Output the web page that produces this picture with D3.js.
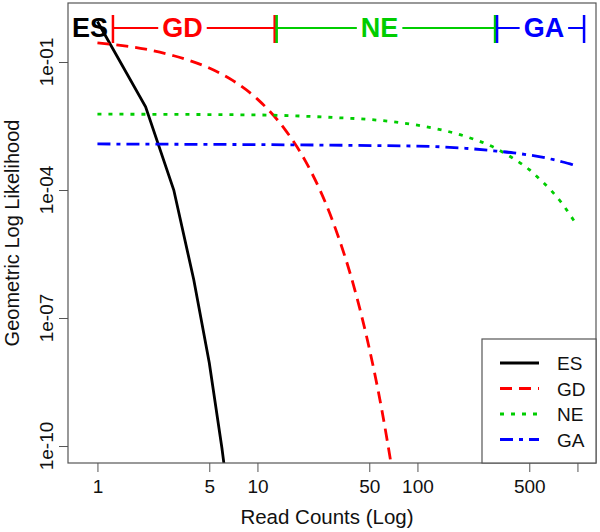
<!doctype html>
<html>
<head>
<script src="https://cdnjs.cloudflare.com/ajax/libs/d3/7.8.5/d3.min.js"></script>
<style>
  body { margin: 0; background: #fff; }
  svg { font-family: "Liberation Sans", Arial, sans-serif; }
</style>
</head>
<body>
<svg id="chart" width="600" height="532"></svg>
<script>
// read counts and likelihoods
var esX  = [1, 2, 3, 4, 5, 6, 7];
var esY  = [8.9e-1, 8.9e-3, 1.0e-4, 7.9e-7, 8.9e-9, 8.9e-11, 1.0e-12];
var gdX  = [1, 2, 3, 5, 7, 10, 15, 20, 30, 40, 50, 60, 70];
var gdY  = [2.8e-1, 2.0e-1, 1.4e-1, 7.2e-2, 3.7e-2, 1.35e-2, 2.5e-3, 4.7e-4, 1.6e-5, 5.6e-7, 1.95e-8, 6.8e-10, 2.3e-11];
var neX  = [1, 10, 30, 50, 100, 200, 300, 400, 500, 600, 700, 800, 900, 1000];
var neY  = [6.0e-3, 5.75e-3, 5.0e-3, 4.5e-3, 3.3e-3, 1.8e-3, 1.0e-3, 5.4e-4, 3.0e-4, 1.6e-4, 8.9e-5, 4.9e-5, 2.6e-5, 1.45e-5];
var gaX  = [1, 100, 200, 300, 400, 500, 600, 700, 800, 900, 1000];
var gaY  = [1.2e-3, 1.07e-3, 9.5e-4, 8.3e-4, 7.4e-4, 6.6e-4, 5.9e-4, 5.2e-4, 4.6e-4, 4.1e-4, 3.6e-4];

var seriesNames = ["ES", "GD", "NE", "GA"];
var xTicks = [1, 5, 10, 50, 100, 500, 1000];
var xTickLabels = ["1", "5", "10", "50", "100", "500", ""];
var yTicks = [1e-1, 1e-4, 1e-7, 1e-10];
var yTickLabels = ["1e-01", "1e-04", "1e-07", "1e-10"];

// range bars on top: boundaries between regimes and where each name sits
var rangeBounds = [1.25, 13, 310, 1100];
var rangeLabelAt = [0.9, 3.4, 58, 617];

var colors = {ES: "#000000", GD: "#ff0000", NE: "#00cd00", GA: "#0000ff"};
var dashes = {ES: null, GD: "12,7", NE: "4,7", GA: "13,6,4,6"};

var svg = d3.select("#chart");
var pLeft = 68, pRight = 596, pTop = 3, pBottom = 463;

var xScale = d3.scaleLog().domain([Math.pow(10, -0.184), Math.pow(10, 3.116)]).range([pLeft, pRight]);
var yScale = d3.scaleLog().domain([Math.pow(10, -10.398), Math.pow(10, 0.383)]).range([pBottom, pTop]);

svg.append("clipPath").attr("id", "clip")
  .append("rect").attr("x", pLeft).attr("y", pTop).attr("width", pRight - pLeft).attr("height", pBottom - pTop);

var series = [
  {name: "ES", xs: esX, ys: esY, curve: d3.curveLinear},
  {name: "GD", xs: gdX, ys: gdY, curve: d3.curveMonotoneX},
  {name: "NE", xs: neX, ys: neY, curve: d3.curveMonotoneX},
  {name: "GA", xs: gaX, ys: gaY, curve: d3.curveMonotoneX}
];

var plot = svg.append("g").attr("clip-path", "url(#clip)");
series.forEach(function(s) {
  var pts = s.xs.map(function(x, i) { return [x, s.ys[i]]; });
  var line = d3.line().x(d => xScale(d[0])).y(d => yScale(d[1])).curve(s.curve);
  plot.append("path").datum(pts)
    .attr("d", line)
    .attr("fill", "none")
    .attr("stroke", colors[s.name])
    .attr("stroke-width", 2.8)
    .attr("stroke-dasharray", dashes[s.name]);
});

// axes
var xAxis = d3.axisBottom(xScale).tickValues(xTicks)
  .tickFormat((d, i) => xTickLabels[i]).tickSize(9).tickPadding(8);
var xg = svg.append("g").attr("transform", "translate(0," + pBottom + ")").call(xAxis);
xg.select(".domain").remove();
xg.selectAll("line").attr("stroke", "#555");
xg.selectAll("text").attr("font-size", 19).attr("fill", "#111")
  .attr("font-family", "Liberation Sans, Arial, sans-serif");

var yAxis = d3.axisLeft(yScale).tickValues(yTicks).tickFormat("").tickSize(9);
var yg = svg.append("g").attr("transform", "translate(" + pLeft + ",0)").call(yAxis);
yg.select(".domain").remove();
yg.selectAll("line").attr("stroke", "#555");
svg.selectAll(".ylab").data(yTicks).enter().append("text")
  .attr("transform", (d) => "translate(53," + yScale(d) + ") rotate(-90)")
  .attr("text-anchor", "middle")
  .attr("font-size", 19).attr("fill", "#111")
  .text((d, i) => yTickLabels[i]);

// plot box
svg.append("rect").attr("x", pLeft).attr("y", pTop).attr("width", pRight - pLeft).attr("height", pBottom - pTop)
  .attr("fill", "none").attr("stroke", "#555").attr("stroke-width", 1.2);

// axis titles
svg.append("text").attr("x", 327).attr("y", 524)
  .attr("text-anchor", "middle").attr("font-size", 20.5).attr("fill", "#111")
  .text("Read Counts (Log)");
svg.append("text").attr("transform", "translate(19," + (pTop + pBottom) / 2 + ") rotate(-90)")
  .attr("text-anchor", "middle").attr("font-size", 20).attr("fill", "#111")
  .text("Geometric Log Likelihood");

// range bars on top
var barY = 28;
for (var i = 1; i < seriesNames.length; i++) {
  var x0 = xScale(rangeBounds[i - 1]), x1 = xScale(rangeBounds[i]);
  var c = colors[seriesNames[i]];
  var off0 = i > 1 ? 1 : 0, off1 = i < seriesNames.length - 1 ? -1 : 0;
  svg.append("line").attr("x1", x0).attr("x2", x1).attr("y1", barY).attr("y2", barY)
    .attr("stroke", c).attr("stroke-width", 2.2);
  svg.append("line").attr("x1", x0 + off0).attr("x2", x0 + off0).attr("y1", 15).attr("y2", 43)
    .attr("stroke", c).attr("stroke-width", 2.5);
  svg.append("line").attr("x1", x1 + off1).attr("x2", x1 + off1).attr("y1", 15).attr("y2", 43)
    .attr("stroke", c).attr("stroke-width", 2.5);
}
seriesNames.forEach(function(n, i) {
  var t = svg.append("text").attr("x", xScale(rangeLabelAt[i])).attr("y", 37)
    .attr("text-anchor", "middle").attr("font-size", 27).attr("font-weight", "bold")
    .attr("fill", colors[n]).text(n);
  if (i > 0) {
    var bb = t.node().getBBox();
    var r = document.createElementNS("http://www.w3.org/2000/svg", "rect");
    svg.node().insertBefore(r, t.node());
    d3.select(r).attr("x", bb.x - 4).attr("y", barY - 4).attr("width", bb.width + 8).attr("height", 8)
      .attr("fill", "#fff");
  }
});

// legend
var lg = svg.append("g");
lg.append("rect").attr("x", 482).attr("y", 339).attr("width", pRight - 482).attr("height", pBottom - 339)
  .attr("fill", "#fff").attr("stroke", "#555").attr("stroke-width", 1.2);
seriesNames.forEach(function(n, i) {
  var y = 363 + i * 25.5;
  lg.append("line").attr("x1", 500).attr("x2", 539).attr("y1", y).attr("y2", y)
    .attr("stroke", colors[n]).attr("stroke-width", 2.8).attr("stroke-dasharray", dashes[n]);
  lg.append("text").attr("x", 557).attr("y", y + 7).attr("font-size", 19).attr("fill", "#111").text(n);
});
</script>
</body>
</html>
